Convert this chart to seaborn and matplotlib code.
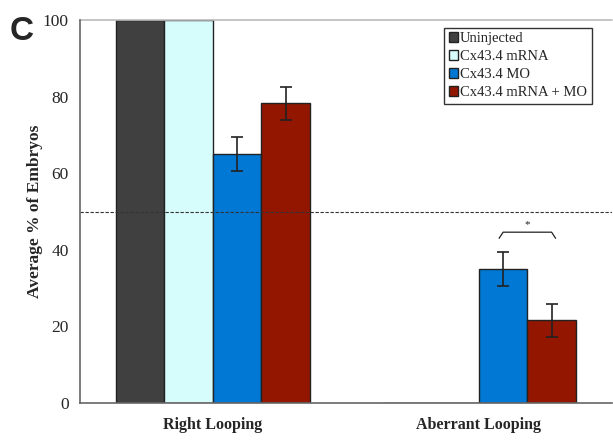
import pandas as pd
import matplotlib.pyplot as plt
import seaborn as sns

categories = ["Right Looping", "Aberrant Looping"]
groups = ["Uninjected", "Cx43.4 mRNA", "Cx43.4 MO", "Cx43.4 mRNA + MO"]
values = {
    "Uninjected": [100, 0],
    "Cx43.4 mRNA": [100, 0],
    "Cx43.4 MO": [65.0, 35.0],
    "Cx43.4 mRNA + MO": [78.3, 21.6],
}
errors = {
    "Uninjected": [0, 0],
    "Cx43.4 mRNA": [0, 0],
    "Cx43.4 MO": [4.5, 4.5],
    "Cx43.4 mRNA + MO": [4.3, 4.3],
}
colors = ["#404040", "#d6fcfc", "#0078d4", "#921600"]

rows = []
for g in groups:
    for c, v in zip(categories, values[g]):
        rows.append({"cat": c, "group": g, "value": v})
df = pd.DataFrame(rows)

sns.set_style("white")
plt.rcParams['font.family'] = ['Liberation Serif', 'DejaVu Serif']

fig = plt.figure(figsize=(6.13, 4.41), dpi=100)
ax = fig.add_axes([0.1305, 0.0862, 0.8675, 0.8684])

sns.barplot(data=df, x="cat", y="value", hue="group", hue_order=groups,
            palette=colors, saturation=1, width=0.73, errorbar=None,
            edgecolor="#222222", linewidth=1.0, ax=ax)

# error bars from bar centres
for g, cont in zip(groups, ax.containers):
    for bar, v, e in zip(cont, values[g], errors[g]):
        if e > 0:
            xc = bar.get_x() + bar.get_width() / 2
            ax.errorbar(xc, v, yerr=e, color="#222222", capsize=4, lw=1.2, capthick=1.2)

ax.axhline(50, color="#333333", ls=(0, (3, 1.5)), lw=0.8)
ax.axhline(100, color="#bbbbbb", lw=1.2, clip_on=False)

# significance bracket between the two MO bars
b1 = ax.containers[2][1]
b2 = ax.containers[3][1]
x1 = b1.get_x() + b1.get_width() / 2
x2 = b2.get_x() + b2.get_width() / 2
ax.plot([x1 - 0.015, x1, x2, x2 + 0.015], [43, 44.6, 44.6, 43], color="#222222", lw=0.9)
ax.text((x1 + x2) / 2, 45.5, "*", ha="center", va="bottom", fontsize=8)

ax.set_ylim(0, 100)
ax.set_xlim(-0.5, 1.5)
ax.set_yticks([0, 20, 40, 60, 80, 100])
ax.tick_params(axis="y", direction="out", length=4, width=1, color="#555555", labelsize=12.5, pad=4)
ax.set_xticks([0, 1])
ax.set_xticklabels(categories, fontweight="bold", fontsize=11.5)
ax.set_xticks([-0.5, 0.5, 1.5], minor=True)
ax.tick_params(axis="x", which="major", length=0, pad=10)
ax.tick_params(axis="x", which="minor", direction="out", length=4, width=1, color="#555555")
ax.set_xlabel("")
ax.set_ylabel("Average % of Embryos", fontweight="bold", fontsize=12.5)
ax.yaxis.set_label_coords(-0.07, 0.5)

for s in ["top", "right"]:
    ax.spines[s].set_visible(False)
for s in ["left", "bottom"]:
    ax.spines[s].set_color("#666666")
    ax.spines[s].set_linewidth(1.2)

leg = ax.legend(loc="upper right", bbox_to_anchor=(0.962, 0.98), fontsize=10.5,
                frameon=True, fancybox=False, handlelength=0.65, handleheight=0.65,
                handletextpad=0.15, borderpad=0.3, labelspacing=0.35, borderaxespad=0)
leg.get_frame().set_edgecolor("black")
leg.get_frame().set_linewidth(1.0)

fig.text(0.016, 0.91, "C", fontsize=24, fontweight="bold", family="Liberation Sans")

plt.savefig("out.png", dpi=100)
